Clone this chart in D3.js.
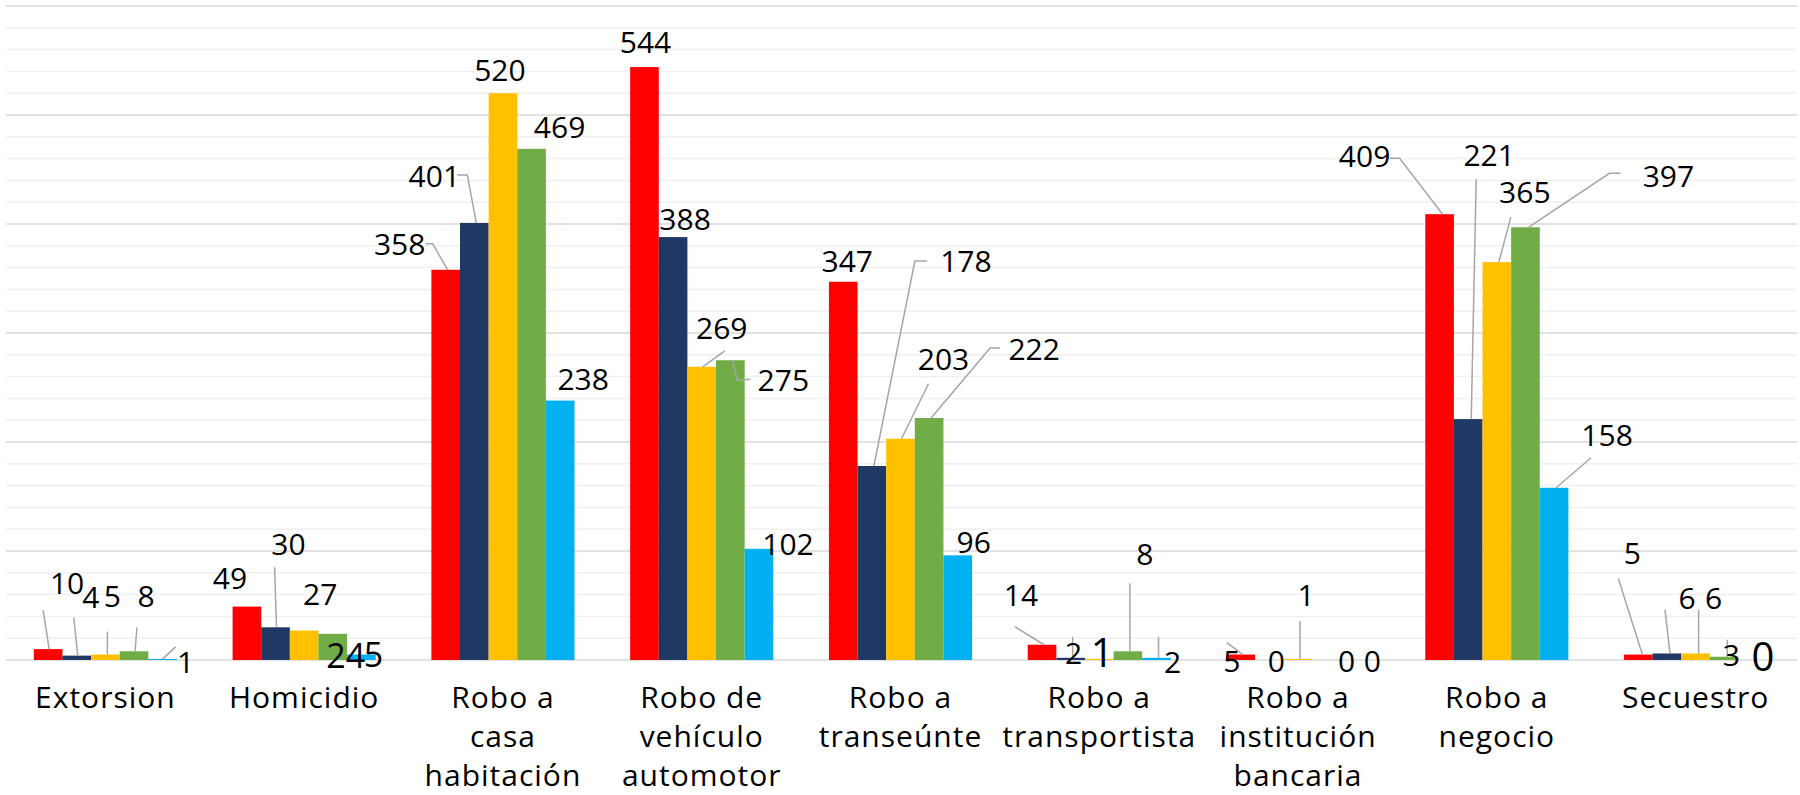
<!DOCTYPE html>
<html>
<head>
<meta charset="utf-8">
<script src="https://cdnjs.cloudflare.com/ajax/libs/d3/7.8.5/d3.min.js"></script>
<style>
body { margin: 0; background: #fff; }
text { font-family: "Open Sans", sans-serif; fill: #000; }
</style>
</head>
<body>
<script>
var width = 1800,
	height = 795;

// datos
var categories = ["Extorsion", "Homicidio", "Robo a casa habitación", "Robo de vehículo automotor",
	"Robo a transeúnte", "Robo a transportista", "Robo a institución bancaria", "Robo a negocio", "Secuestro"];
var serie1 = [10, 49, 358, 544, 347, 14, 5, 409, 5];
var serie2 = [4, 30, 401, 388, 178, 2, 0, 221, 6];
var serie3 = [5, 27, 520, 269, 203, 1, 1, 365, 6];
var serie4 = [8, 24, 469, 275, 222, 8, 0, 397, 3];
var serie5 = [1, 5, 238, 102, 96, 2, 0, 158, 0];
var yTicks = d3.range(0, 620, 20);

var series = [serie1, serie2, serie3, serie4, serie5];
var colors = ["#ff0000", "#203864", "#ffc000", "#70ad47", "#00b0f0"];

// donde va cada etiqueta (dx, dy desde la punta de la barra), linea guia, tamaño
var labelPos = [
	[[19, -66, [[-5, -39], [1, 0]]], [14, -58, [[-3, -38], [1, 0]]], [7, -58, [[2, -23], [2, 0]]], [12, -55, [[3, -24], [1, 0]]], [23, 3, [[13, -12], [0, 0]]]],
	[[-17, -28], [13, -83, [[-1, -60], [1, 0]]], [16, -36], [13, 22, null, 34], [12, 0, null, 34]],
	[[-46, -26, [[-20, -26], [-13, -26], [2, 0]]], [-40, -47, [[-17, -48], [-7, -48], [2, 0]]], [-3, -23], [28, -22], [23, -21]],
	[[1, -25], [12, -18], [20, -39, [[23, -16], [1, 0]]], [53, 20, [[20, 19], [7, 20], [2, 0]]], [29, -5]],
	[[4, -21], [94, -205, [[55, -205], [43, -205], [2, 0]]], [43, -80, [[28, -55], [1, 0]]], [105, -69, [[71, -70], [61, -70], [2, 0]]], [16, -13]],
	[[-21, -50, [[-27, -18], [2, 0]]], [3, -5, [[2, -21], [2, 0]]], [3, -6, null, 40], [17, -97, [[2, -68], [2, 0]]], [16, 4, [[2, -21], [2, 0]]]],
	[[-9, 7, [[-14, -12], [2, 0]]], [7, 1], [8, -64, [[2, -38], [2, 0]]], [20, 1], [17, 1]],
	[[-75, -58, [[-50, -56], [-40, -56], [3, 0]]], [21, -264, [[8, -240], [3, 0]]], [28, -70, [[14, -45], [2, 0]]], [143, -51, [[95, -54], [84, -54], [3, 0]]], [53, -53, [[37, -30], [2, 0]]]],
	[[-6, -101, [[-20, -76], [4, 0]]], [20, -55, [[-2, -44], [3, 0]]], [18, -55, [[3, -44], [3, 0]]], [7, -2, [[3, -17], [3, 0]]], [10, -3, null, 40]]
];

var rows = categories.map(function(c, k) {
	return { cat: c, k: k, values: series.map(function(s, i) { return { i: i, k: k, value: s[k] }; }) };
});

var x0 = d3.scaleBand()
	.domain(categories)
	.range([6, 1795])
	.paddingInner(0.28)
	.paddingOuter(0.14);

var x1 = d3.scaleBand()
	.domain(d3.range(series.length))
	.range([0, x0.bandwidth()]);

var y = d3.scaleLinear()
	.domain([0, 600])
	.range([660, 6]);

var svg = d3.select("body").append("svg")
	.attr("width", width)
	.attr("height", height);

// lineas de fondo
svg.append("g").selectAll("line")
	.data(yTicks)
	.enter().append("line")
	.attr("x1", 6)
	.attr("x2", 1797)
	.attr("y1", function(d) { return y(d); })
	.attr("y2", function(d) { return y(d); })
	.attr("stroke", function(d) { return d % 100 === 0 ? "#d9d9d9" : "#f0f0f0"; })
	.attr("stroke-width", 1.5);

var groups = svg.append("g").selectAll("g")
	.data(rows)
	.enter().append("g")
	.attr("transform", function(d) { return "translate(" + x0(d.cat) + ",0)"; });

groups.selectAll("rect")
	.data(function(d) { return d.values; })
	.enter().append("rect")
	.attr("x", function(d) { return x1(d.i); })
	.attr("y", function(d) { return y(d.value); })
	.attr("width", x1.bandwidth())
	.attr("height", function(d) { return y(0) - y(d.value); })
	.attr("fill", function(d) { return colors[d.i]; });

function barX(d) { return x1(d.i) + x1.bandwidth() / 2; }

// lineas guia
groups.selectAll("path.leader")
	.data(function(d) { return d.values.filter(function(v) { return labelPos[v.k][v.i][2]; }); })
	.enter().append("path")
	.attr("class", "leader")
	.attr("fill", "none")
	.attr("stroke", "#a6a6a6")
	.attr("stroke-width", 1.5)
	.attr("d", function(d) {
		var bx = barX(d), by = y(d.value);
		return d3.line()(labelPos[d.k][d.i][2].map(function(p) { return [bx + p[0], by + p[1]]; }));
	});

// etiquetas
groups.selectAll("text.lbl")
	.data(function(d) { return d.values; })
	.enter().append("text")
	.attr("class", "lbl")
	.attr("text-anchor", "middle")
	.attr("font-size", function(d) { return (labelPos[d.k][d.i][3] || 30) + "px"; })
	.attr("x", function(d) { return barX(d) + labelPos[d.k][d.i][0]; })
	.attr("y", function(d) { return y(d.value) + labelPos[d.k][d.i][1]; })
	.attr("dy", "0.36em")
	.text(function(d) { return d.value; });

// eje x
var xAxis = svg.append("g")
	.attr("transform", "translate(0," + y(0) + ")")
	.call(d3.axisBottom(x0).tickSize(0).tickPadding(27));

xAxis.select(".domain").remove();
xAxis.attr("font-family", null).attr("font-size", null);
xAxis.selectAll("text")
	.style("font-size", "30px")
	.style("letter-spacing", "1px")
	.attr("fill", "#000")
	.call(wrap, 160);

function wrap(text, w) {
	text.each(function() {
		var text = d3.select(this),
			words = text.text().split(/\s+/).reverse(),
			word, line = [], lineNumber = 0, lineHeight = 1.3,
			ty = text.attr("y"),
			dy = parseFloat(text.attr("dy")),
			tspan = text.text(null).append("tspan").attr("x", 0).attr("y", ty).attr("dy", dy + "em");
		while (word = words.pop()) {
			line.push(word);
			tspan.text(line.join(" "));
			if (tspan.node().getComputedTextLength() > w && line.length > 1) {
				line.pop();
				tspan.text(line.join(" "));
				line = [word];
				tspan = text.append("tspan").attr("x", 0).attr("y", ty)
					.attr("dy", ++lineNumber * lineHeight + dy + "em").text(word);
			}
		}
	});
}
</script>
</body>
</html>
